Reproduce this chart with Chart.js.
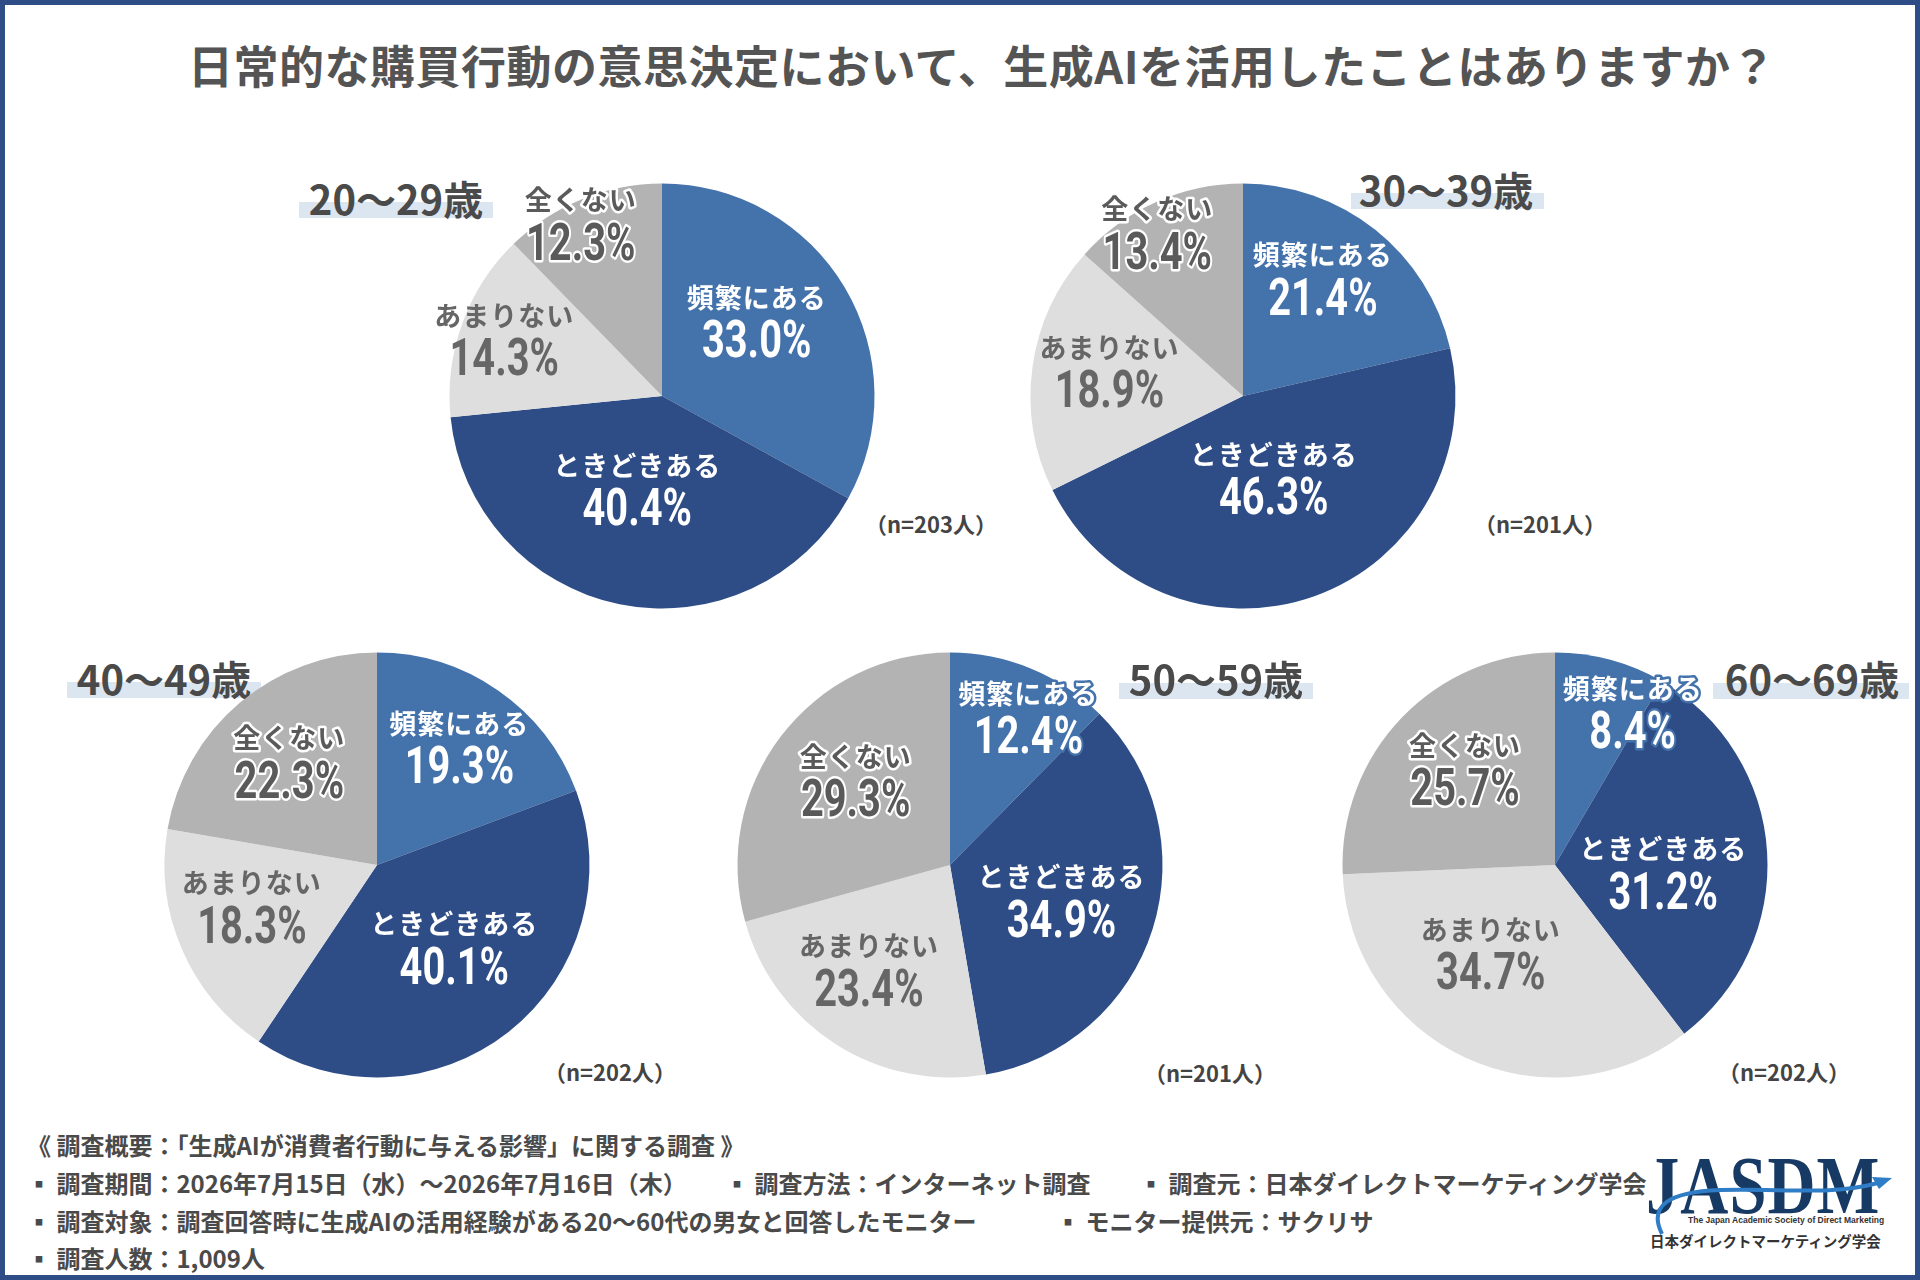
<!DOCTYPE html>
<html lang="ja">
<head>
<meta charset="utf-8">
<title>生成AIの活用経験（年代別）</title>
<script src="https://cdn.jsdelivr.net/npm/chart.js"></script>
<style>
  html, body { margin: 0; padding: 0; background: #fff; }
  #page {
    position: relative; width: 1920px; height: 1280px; overflow: hidden;
    font-family: "Noto Sans CJK JP", "Noto Sans", sans-serif; font-weight: 700; color: #555;
  }
  #frame {
    position: absolute; left: 0; top: 0; width: 1920px; height: 1280px;
    box-sizing: border-box; border: 5px solid #2e4d86; pointer-events: none;
  }
  #title {
    position: absolute; left: 40px; width: 1884px; top: 41px; line-height: 48px;
    text-align: center; font-size: 45px; letter-spacing: 0.5px; color: #545454;
  }
  canvas.pie { position: absolute; }
  .age-bar { position: absolute; height: 16px; background: #dce6f0; }
  .age { position: absolute; width: 300px; margin-left: -150px; text-align: center;
         font-size: 40px; line-height: 40px; color: #4a4a4a; }
  .count { position: absolute; width: 200px; margin-left: -100px; text-align: center;
           font-size: 22px; line-height: 30px; color: #444; }
  .foot { position: absolute; font-size: 24px; line-height: 30px; color: #4a4a4a; white-space: nowrap; }
  #logo-mark { position: absolute; left: 1646px; top: 1140px; font-family: "Liberation Serif", serif;
               font-weight: 700; font-size: 64px; line-height: 70px; letter-spacing: 1px; color: #173a64;
               transform: scale(1.04, 1.3); transform-origin: left top; }
  #logo-en { position: absolute; left: 1688px; top: 1214px; font-family: "Liberation Sans", sans-serif;
             font-size: 8.5px; line-height: 12px; color: #333; font-weight: 700; }
  #logo-jp { position: absolute; left: 1650px; top: 1231px; font-size: 14.5px; line-height: 20px; color: #333; }
  #swoosh { position: absolute; left: 0; top: 0; }
</style>
</head>
<body>
<div id="page">
  <div id="title">日常的な購買行動の意思決定において、生成AIを活用したことはありますか？</div>

  <div class="foot" style="left:27px; top:1130px">《 調査概要：「生成AIが消費者行動に与える影響」に関する調査 》</div>
  <div class="foot" style="left:27px; top:1168px">▪ 調査期間：2026年7月15日（水）〜2026年7月16日（木）</div>
  <div class="foot" style="left:725px; top:1168px">▪ 調査方法：インターネット調査</div>
  <div class="foot" style="left:1139px; top:1168px">▪ 調査元：日本ダイレクトマーケティング学会</div>
  <div class="foot" style="left:27px; top:1206px">▪ 調査対象：調査回答時に生成AIの活用経験がある20〜60代の男女と回答したモニター</div>
  <div class="foot" style="left:1056px; top:1206px">▪ モニター提供元：サクリサ</div>
  <div class="foot" style="left:27px; top:1243px">▪ 調査人数：1,009人</div>

  <div id="logo-mark">JASDM</div>
  <svg id="swoosh" width="1920" height="1280">
    <path d="M1662,1234 C1648,1206 1668,1192 1720,1190 C1780,1188 1830,1196 1878,1183"
          fill="none" stroke="#2f7dc6" stroke-width="4"/>
    <polygon points="1892,1178 1872,1177 1879,1189" fill="#2f7dc6"/>
  </svg>
  <div id="logo-en">The Japan Academic Society of Direct Marketing</div>
  <div id="logo-jp">日本ダイレクトマーケティング学会</div>

  <div id="frame"></div>
</div>

<script>
// answer options, clockwise from 12 o'clock
const categories = ['頻繁にある', 'ときどきある', 'あまりない', '全くない'];
const ageGroups = ['20〜29歳', '30〜39歳', '40〜49歳', '50〜59歳', '60〜69歳'];
const sampleSizes = [203, 201, 202, 201, 202];

// share of respondents (%) per age group
const share20s = [33.0, 40.4, 14.3, 12.3];
const share30s = [21.4, 46.3, 18.9, 13.4];
const share40s = [19.3, 40.1, 18.3, 22.3];
const share50s = [12.4, 34.9, 23.4, 29.3];
const share60s = [8.4, 31.2, 34.7, 25.7];
const shares = [share20s, share30s, share40s, share50s, share60s];

const sliceColors = ['#4472ab', '#2e4d86', '#dedede', '#b3b3b3'];
const labelFill = ['#ffffff', '#ffffff', '#666666', '#5a5a5a'];
const labelHalo = ['#4472ab', null, null, '#ffffff'];

const NAME_FONT = '700 27px "Noto Sans CJK JP", sans-serif';
const PCT_FONT = '700 51px Roboto, "DejaVu Sans", sans-serif';
const PCT_SQUEEZE = 0.78;

// layout: pie centre, label spots [radius fraction, angle shift deg], age tag and n position
const SIZE = 640, RADIUS = 212.5;
const layout = [
  { cx: 662, cy: 396, place: [[0.57, -8], [0.45, 3.5], [0.79, 0], [0.9, -3]],
    tag: { x: 396, y: 178, bar: [299, 202, 194] }, n: [931, 508] },
  { cx: 1243, cy: 396, place: [[0.67, -4.4], [0.41, -1], [0.64, 3], [0.87, -3.5]],
    tag: { x: 1446, y: 169, bar: [1351, 193, 193] }, n: [1540, 508] },
  { cx: 377, cy: 865, place: [[0.68, 0], [0.53, -5], [0.62, 5], [0.64, 0]],
    tag: { x: 164, y: 658, bar: [67, 682, 194] }, n: [610, 1056] },
  { cx: 950, cy: 865, place: [[0.79, 5.5], [0.55, 0], [0.62, 5.6], [0.6, 5]],
    tag: { x: 1216, y: 658, bar: [1119, 683, 194] }, n: [1210, 1057] },
  { cx: 1555, cy: 865, place: [[0.81, 11.7], [0.51, 7.2], [0.51, 11.3], [0.62, 3.2]],
    tag: { x: 1812, y: 658, bar: [1713, 683, 196] }, n: [1784, 1056] }
];

function drawText(ctx, text, x, y, font, i, spacing, squeeze) {
  ctx.save();
  ctx.translate(x, y);
  ctx.scale(squeeze, 1);
  ctx.font = font;
  ctx.letterSpacing = spacing;
  ctx.textAlign = 'center';
  ctx.textBaseline = 'middle';
  if (labelHalo[i]) {
    ctx.lineJoin = 'round';
    ctx.lineWidth = 5;
    ctx.strokeStyle = labelHalo[i];
    ctx.strokeText(text, 0, 0);
  }
  ctx.fillStyle = labelFill[i];
  ctx.fillText(text, 0, 0);
  ctx.restore();
}

const sliceLabels = {
  id: 'sliceLabels',
  afterDatasetsDraw(chart, args, opts) {
    const ctx = chart.ctx;
    chart.getDatasetMeta(0).data.forEach((arc, i) => {
      const p = arc.getProps(['x', 'y', 'startAngle', 'endAngle', 'outerRadius'], true);
      const [frac, shift] = opts.place[i];
      const a = (p.startAngle + p.endAngle) / 2 + shift * Math.PI / 180;
      const x = p.x + Math.cos(a) * p.outerRadius * frac;
      const y = p.y + Math.sin(a) * p.outerRadius * frac;
      const value = chart.data.datasets[0].data[i];
      drawText(ctx, chart.data.labels[i], x, y - 23, NAME_FONT, i, '1px', 1);
      drawText(ctx, value.toFixed(1) + '%', x, y + 24, PCT_FONT, i, '0px', PCT_SQUEEZE);
    });
  }
};

const page = document.getElementById('page');
const frame = document.getElementById('frame');

layout.forEach((cfg, k) => {
  const bar = document.createElement('div');
  bar.className = 'age-bar';
  bar.style.left = cfg.tag.bar[0] + 'px';
  bar.style.top = cfg.tag.bar[1] + 'px';
  bar.style.width = cfg.tag.bar[2] + 'px';
  page.insertBefore(bar, frame);

  const tag = document.createElement('div');
  tag.className = 'age';
  tag.style.left = cfg.tag.x + 'px';
  tag.style.top = cfg.tag.y + 'px';
  tag.textContent = ageGroups[k];
  page.insertBefore(tag, frame);

  const n = document.createElement('div');
  n.className = 'count';
  n.style.left = cfg.n[0] + 'px';
  n.style.top = cfg.n[1] + 'px';
  n.textContent = '（n=' + sampleSizes[k] + '人）';
  page.insertBefore(n, frame);

  const canvas = document.createElement('canvas');
  canvas.className = 'pie';
  canvas.width = SIZE;
  canvas.height = SIZE;
  canvas.style.left = (cfg.cx - SIZE / 2) + 'px';
  canvas.style.top = (cfg.cy - SIZE / 2) + 'px';
  page.insertBefore(canvas, frame);

  new Chart(canvas, {
    type: 'pie',
    data: {
      labels: categories,
      datasets: [{ data: shares[k], backgroundColor: sliceColors, borderWidth: 0 }]
    },
    options: {
      responsive: false,
      animation: false,
      events: [],
      layout: { padding: SIZE / 2 - RADIUS },
      plugins: {
        legend: { display: false },
        tooltip: { enabled: false },
        sliceLabels: { place: cfg.place }
      }
    },
    plugins: [sliceLabels]
  });
});
</script>
</body>
</html>
